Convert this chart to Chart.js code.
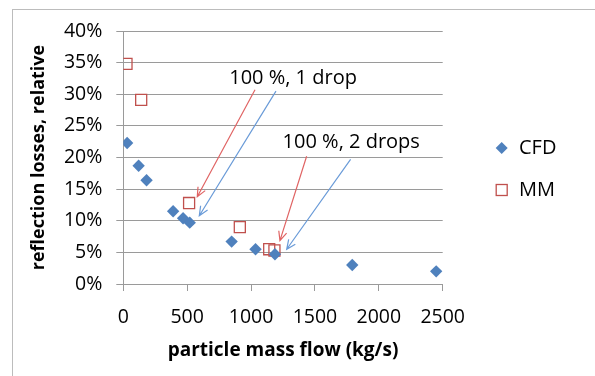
<!DOCTYPE html>
<html>
<head>
<meta charset="utf-8">
<script src="https://cdn.jsdelivr.net/npm/chart.js@4"></script>
<style>
  html, body { margin: 0; padding: 0; background: #fff; }
  #wrap { width: 595px; height: 376px; }
</style>
</head>
<body>
<div id="wrap"><canvas id="lossChart" width="595" height="376"></canvas></div>
<script>
// values (x in kg/s, y in %)
const cfdFlow = [30, 120, 182, 390, 468, 520, 848, 1035, 1187, 1792, 2449];
const cfdLoss = [22.3, 18.7, 16.4, 11.5, 10.4, 9.7, 6.7, 5.5, 4.7, 3.0, 2.0];
const mmFlow = [25, 140, 515, 912, 1142, 1183];
const mmLoss = [34.8, 29.1, 12.8, 9.0, 5.5, 5.3];

const seriesNames = ["CFD", "MM"];
const xTitle = "particle mass flow (kg/s)";
const yTitle = "reflection losses, relative";

// annotation labels and arrows, in data units
const noteLabels = ["100 %, 1 drop", "100 %, 2 drops"];
const noteAnchors = [[829, 32.6], [1247, 22.4]];
const arrowsRed = [[[1031, 30.7], [579, 13.8]], [[1435, 20.2], [1226, 6.85]]];
const arrowsBlue = [[[1195, 30.5], [595, 10.8]], [[1779, 19.7], [1279, 5.49]]];

const FONT = "'Open Sans'";
const BLUE = "#4F81BD";
const RED = "#C0504D";

const toPoints = (xs, ys) => xs.map((x, i) => ({x: x, y: ys[i]}));

function drawArrow(ctx, x0, y0, x1, y1, color) {
    const ang = Math.atan2(y1 - y0, x1 - x0);
    const head = 10;
    const spread = 0.42;
    ctx.save();
    ctx.strokeStyle = color;
    ctx.lineWidth = 1.2;
    ctx.beginPath();
    ctx.moveTo(x0, y0);
    ctx.lineTo(x1, y1);
    ctx.moveTo(x1 - head * Math.cos(ang - spread), y1 - head * Math.sin(ang - spread));
    ctx.lineTo(x1, y1);
    ctx.lineTo(x1 - head * Math.cos(ang + spread), y1 - head * Math.sin(ang + spread));
    ctx.stroke();
    ctx.restore();
}

const extrasPlugin = {
    id: "extras",
    beforeDraw(chart) {
        const ctx = chart.ctx;
        ctx.save();
        ctx.fillStyle = "#fff";
        ctx.fillRect(0, 0, chart.width, chart.height);
        ctx.strokeStyle = "#BCBCBC";
        ctx.lineWidth = 1;
        ctx.strokeRect(12.5, 9.5, 800, 600);
        ctx.restore();
    },
    afterDraw(chart) {
        const ctx = chart.ctx;
        const xs = chart.scales.x;
        const ys = chart.scales.y;

        // annotations
        ctx.save();
        ctx.font = "20px " + FONT;
        ctx.fillStyle = "#000";
        ctx.textAlign = "left";
        ctx.textBaseline = "middle";
        noteLabels.forEach((txt, i) => {
            ctx.fillText(txt, xs.getPixelForValue(noteAnchors[i][0]), ys.getPixelForValue(noteAnchors[i][1]));
        });
        ctx.restore();

        arrowsRed.forEach(a => drawArrow(ctx,
            xs.getPixelForValue(a[0][0]), ys.getPixelForValue(a[0][1]),
            xs.getPixelForValue(a[1][0]), ys.getPixelForValue(a[1][1]), "#E06464"));
        arrowsBlue.forEach(a => drawArrow(ctx,
            xs.getPixelForValue(a[0][0]), ys.getPixelForValue(a[0][1]),
            xs.getPixelForValue(a[1][0]), ys.getPixelForValue(a[1][1]), "#6A9BD8"));

        // legend on the right
        const lx = 501.7;
        const rows = [148, 190];
        chart.data.datasets.forEach((ds, i) => {
            ctx.save();
            if (ds.pointStyle === "rectRot") {
                ctx.fillStyle = ds.backgroundColor;
                ctx.beginPath();
                ctx.moveTo(lx - 6, rows[i]);
                ctx.lineTo(lx, rows[i] - 6);
                ctx.lineTo(lx + 6, rows[i]);
                ctx.lineTo(lx, rows[i] + 6);
                ctx.closePath();
                ctx.fill();
            } else {
                ctx.strokeStyle = ds.borderColor;
                ctx.lineWidth = ds.borderWidth;
                ctx.strokeRect(lx - 5.5, rows[i] - 5.5, 11, 11);
            }
            ctx.font = "20px " + FONT;
            ctx.fillStyle = "#000";
            ctx.textBaseline = "middle";
            ctx.fillText(ds.label, 519, rows[i]);
            ctx.restore();
        });
    }
};

new Chart(document.getElementById("lossChart"), {
    type: "scatter",
    data: {
        datasets: [{
            label: seriesNames[0],
            data: toPoints(cfdFlow, cfdLoss),
            pointStyle: "rectRot",
            pointRadius: 6.2,
            backgroundColor: BLUE,
            borderColor: BLUE,
            borderWidth: 0,
        }, {
            label: seriesNames[1],
            data: toPoints(mmFlow, mmLoss),
            pointStyle: "rect",
            pointRadius: 7.8,
            backgroundColor: "rgba(0,0,0,0)",
            borderColor: RED,
            borderWidth: 1.3,
        }]
    },
    options: {
        responsive: false,
        animation: false,
        layout: {
            padding: {left: 18, right: 152.3, top: 31, bottom: 10}
        },
        plugins: {
            legend: {display: false},
            tooltip: {enabled: false}
        },
        scales: {
            x: {
                type: "linear",
                min: 0,
                max: 2500,
                ticks: {
                    stepSize: 500,
                    padding: 15,
                    color: "#000",
                    font: {family: FONT, size: 19.5},
                    callback: v => String(v)
                },
                grid: {
                    drawOnChartArea: false,
                    drawTicks: true,
                    tickLength: 7,
                    color: "#9A9A9A"
                },
                border: {display: true, color: "#9A9A9A"},
                title: {
                    display: true,
                    text: xTitle,
                    color: "#000",
                    font: {family: FONT, size: 19, weight: "bold"},
                    padding: {top: 0, bottom: 4}
                },
                afterFit(scale) { scale.height = 82; }
            },
            y: {
                min: 0,
                max: 40,
                ticks: {
                    stepSize: 5,
                    padding: 14,
                    color: "#000",
                    font: {family: FONT, size: 19.5},
                    callback: v => v + "%"
                },
                grid: {
                    drawTicks: true,
                    tickLength: 7,
                    color: "#9A9A9A"
                },
                border: {display: true, color: "#9A9A9A"},
                title: {
                    display: true,
                    text: yTitle,
                    color: "#000",
                    font: {family: FONT, size: 18, weight: "bold"},
                    padding: {top: 10, bottom: 0}
                },
                afterFit(scale) { scale.width = 105.3; }
            }
        }
    },
    plugins: [extrasPlugin]
});
</script>
</body>
</html>
